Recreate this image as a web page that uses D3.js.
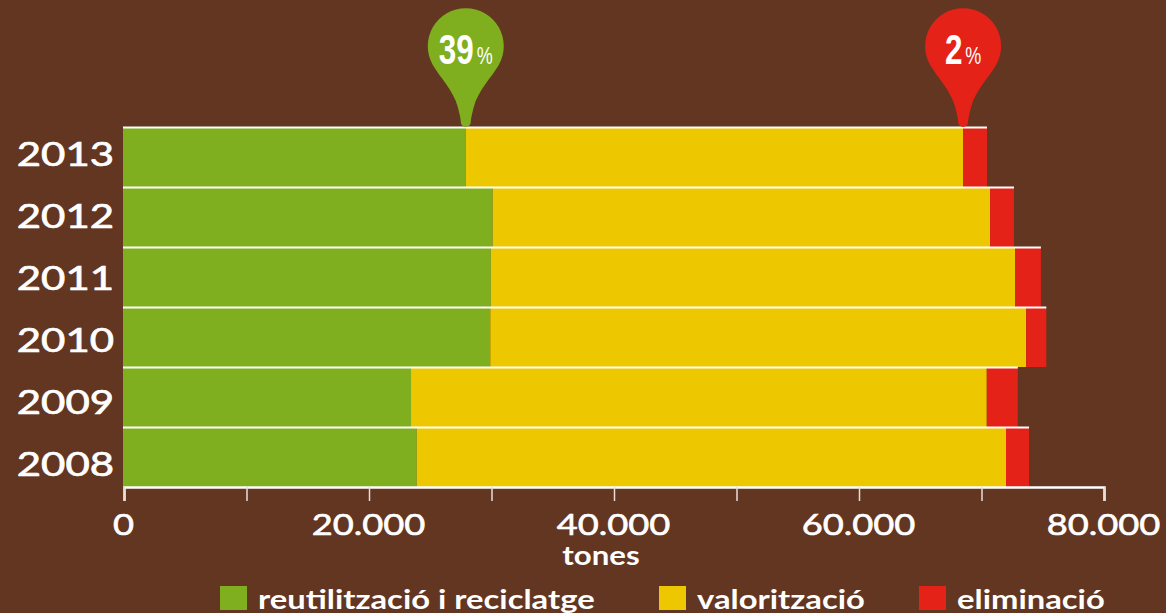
<!DOCTYPE html>
<html>
<head>
<meta charset="utf-8">
<script src="https://cdn.jsdelivr.net/npm/d3@7"></script>
<style>
  html, body { margin: 0; padding: 0; background: #633622; }
  svg { display: block; }
  text { font-family: Lato, sans-serif; fill: #fff; }
</style>
</head>
<body>
<svg id="chart" width="1166" height="613"></svg>
<script>
var years = ["2013", "2012", "2011", "2010", "2009", "2008"];
var reuse = [27900, 30100, 29950, 29900, 23430, 23900];
var recovery = [40600, 40600, 42800, 43750, 47000, 48100];
var disposal = [1950, 1950, 2100, 1640, 2530, 1880];
var seriesNames = ["reutilització i reciclatge", "valorització", "eliminació"];
var seriesColors = ["#7fae1f", "#edc800", "#e42218"];
var xTicks = [0, 10000, 20000, 30000, 40000, 50000, 60000, 70000, 80000];
var xLabelled = [0, 20000, 40000, 60000, 80000];
var pinLabels = ["39", "2"];

var svg = d3.select("#chart");

var x = d3.scaleLinear().domain([0, 80000]).range([124, 1104]);
var y = d3.scaleBand().domain(years).range([127, 487]);
var yLabel = d3.scalePoint().domain(years).range([154, 464]);

var rows = years.map(function(year, i) {
  return { year: year, a: reuse[i], b: recovery[i], c: disposal[i] };
});

var stack = d3.stack().keys(["a", "b", "c"])(rows);

// stacked bars
svg.selectAll("g.series").data(stack).enter().append("g")
  .attr("class", "series")
  .attr("fill", function(d, i) { return seriesColors[i]; })
  .selectAll("rect").data(function(d) { return d; }).enter().append("rect")
  .attr("x", function(d) { return x(d[0]) - (d[0] === 0 ? 1 : 0); })
  .attr("y", function(d) { return y(d.data.year); })
  .attr("width", function(d) { return x(d[1]) - x(d[0]) + (d[0] === 0 ? 1 : 0); })
  .attr("height", y.bandwidth());

// white line on top of each bar
svg.selectAll("line.top").data(rows).enter().append("line")
  .attr("class", "top")
  .attr("x1", x(0) - 1)
  .attr("x2", function(d) { return x(d.a + d.b + d.c); })
  .attr("y1", function(d) { return y(d.year) + 0.5; })
  .attr("y2", function(d) { return y(d.year) + 0.5; })
  .attr("stroke", "#fff")
  .attr("stroke-width", 2);

// x axis
var fmt = d3.formatLocale({ decimal: ",", thousands: ".", grouping: [3], currency: ["", ""] }).format(",");
var axis = d3.axisBottom(x).tickValues(xTicks).tickSize(14).tickPadding(6)
  .tickFormat(function(d) { return xLabelled.indexOf(d) >= 0 ? fmt(d) : ""; });

var gx = svg.append("g").attr("transform", "translate(0,487)").call(axis);
gx.select(".domain").attr("stroke", "#fff").attr("stroke-width", 2.5);
gx.selectAll(".tick line").attr("stroke", "#e6dfd8").attr("stroke-width", 1.5);
gx.selectAll(".tick text")
  .attr("font-size", 29).attr("dy", "0.96em").attr("dx", -1)
  .attr("stroke", "#fff").attr("stroke-width", 0.6)
  .style("font-family", "Lato, sans-serif").attr("fill", "#fff");

// year labels
svg.selectAll("text.year").data(years).enter().append("text")
  .attr("class", "year")
  .attr("x", 114)
  .attr("y", function(d) { return yLabel(d) + 12; })
  .attr("text-anchor", "end")
  .attr("font-size", 33)
  .attr("stroke", "#fff").attr("stroke-width", 0.7)
  .text(function(d) { return d; });

// axis title
var title = svg.append("text")
  .attr("x", 601).attr("y", 565)
  .attr("text-anchor", "middle")
  .attr("font-size", 26).attr("font-weight", 700)
  .text("tones");

// legend
var legendX = [220, 659, 919];
var legend = svg.selectAll("g.legend").data(seriesNames).enter().append("g")
  .attr("class", "legend")
  .attr("transform", function(d, i) { return "translate(" + legendX[i] + ",586)"; });
legend.append("rect").attr("width", 27).attr("height", 24)
  .attr("fill", function(d, i) { return seriesColors[i]; });
legend.append("text").attr("x", 38).attr("y", 23)
  .attr("font-size", 26).attr("font-weight", 700)
  .attr("class", "wide")
  .text(function(d) { return d; });

// widen the text, the original font is a wide geometric one
function widen(sel, k) {
  sel.each(function() {
    var len = this.getComputedTextLength();
    if (len > 0) d3.select(this).attr("textLength", len * k).attr("lengthAdjust", "spacingAndGlyphs");
  });
}
widen(gx.selectAll(".tick text"), 1.25);
widen(svg.selectAll("text.year"), 1.27);
widen(svg.selectAll("text.wide"), 1.26);
widen(title, 1.2);

// pins
var pinPath = "M-33,-62 A38,38 0 1 1 33,-62 C26,-50 12,-36 8,-20 C6,-12 5,-8 5,-5 " +
  "A5,5 0 0 1 -5,-5 C-5,-8 -6,-12 -8,-20 C-12,-36 -26,-50 -33,-62 Z";

var pins = [
  { v: reuse[0], color: seriesColors[0], label: pinLabels[0] },
  { v: reuse[0] + recovery[0], color: seriesColors[2], label: pinLabels[1] }
];

var pin = svg.selectAll("g.pin").data(pins).enter().append("g")
  .attr("class", "pin")
  .attr("transform", function(d) { return "translate(" + x(d.v) + ",127)"; });
pin.append("path").attr("d", pinPath).attr("fill", function(d) { return d.color; });

// condensed number and a small %, squeezed since there is no narrow font
pin.each(function(d) {
  var g = d3.select(this);
  var num = g.append("text").attr("y", -63)
    .attr("font-size", 43).attr("font-weight", 700)
    .style("font-family", "'Liberation Sans', sans-serif")
    .text(d.label);
  var numW = num.node().getComputedTextLength() * 0.73;
  var total = numW + 3 + 16;
  num.attr("x", -total / 2).attr("textLength", numW).attr("lengthAdjust", "spacingAndGlyphs");
  g.append("text").attr("y", -63)
    .attr("x", -total / 2 + numW + 3)
    .attr("font-size", 23)
    .attr("textLength", 16).attr("lengthAdjust", "spacingAndGlyphs")
    .style("font-family", "'Liberation Sans', sans-serif")
    .text("%");
});
</script>
</body>
</html>
